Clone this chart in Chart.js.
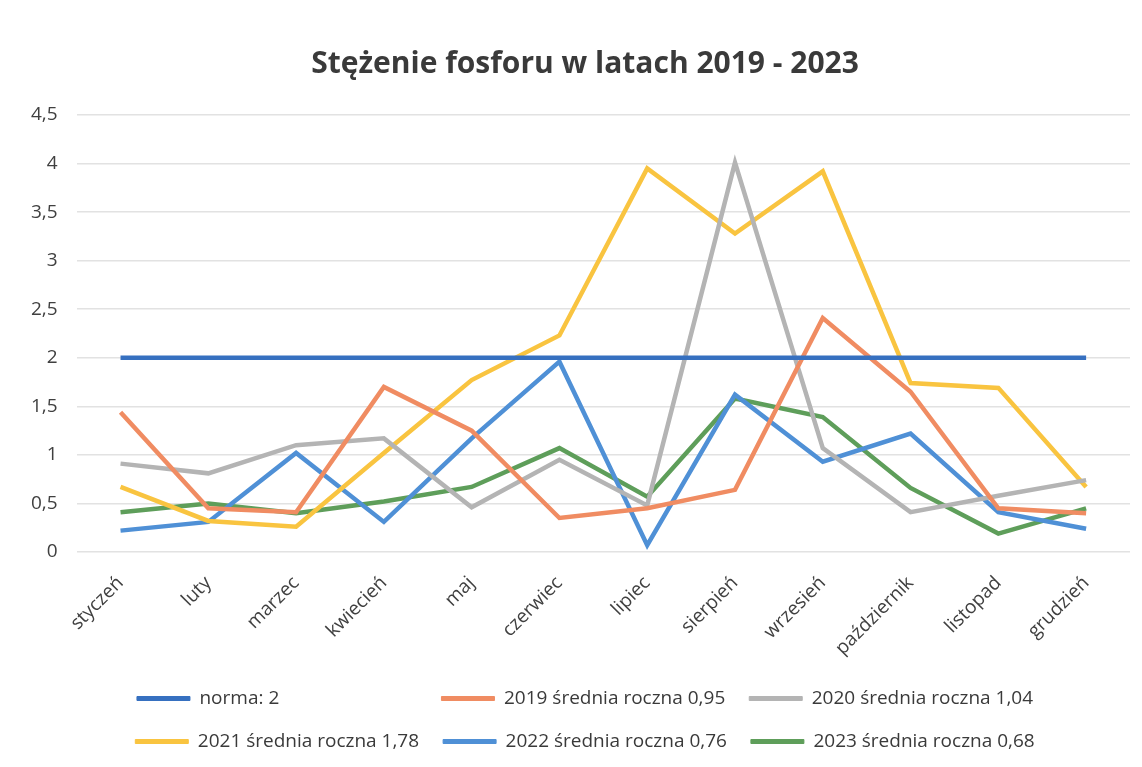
<!DOCTYPE html>
<html>
<head>
<meta charset="utf-8">
<script src="https://cdn.jsdelivr.net/npm/chart.js@4.4.1/dist/chart.umd.min.js"></script>
<style>
    html, body { margin: 0; padding: 0; background: #fff; }
    #wrap { width: 1142px; height: 767px; position: relative; }
</style>
</head>
<body>
<div id="wrap"><canvas id="fosfor"></canvas></div>
<script>
var miesiace = ['styczeń', 'luty', 'marzec', 'kwiecień', 'maj', 'czerwiec', 'lipiec', 'sierpień', 'wrzesień', 'październik', 'listopad', 'grudzień'];
var norma = [2, 2, 2, 2, 2, 2, 2, 2, 2, 2, 2, 2];
var rok2019 = [1.44, 0.45, 0.41, 1.70, 1.25, 0.35, 0.45, 0.64, 2.41, 1.65, 0.45, 0.40];
var rok2020 = [0.91, 0.81, 1.10, 1.17, 0.46, 0.95, 0.48, 4.01, 1.07, 0.41, 0.58, 0.74];
var rok2021 = [0.67, 0.32, 0.26, 1.02, 1.77, 2.23, 3.95, 3.28, 3.92, 1.74, 1.69, 0.67];
var rok2022 = [0.22, 0.31, 1.02, 0.31, 1.17, 1.96, 0.07, 1.62, 0.93, 1.22, 0.41, 0.24];
var rok2023 = [0.41, 0.50, 0.40, 0.52, 0.67, 1.07, 0.57, 1.58, 1.39, 0.66, 0.19, 0.45];
var etykiety = ['norma: 2', '2019 średnia roczna 0,95', '2020 średnia roczna 1,04', '2021 średnia roczna 1,78', '2022 średnia roczna 0,76', '2023 średnia roczna 0,68'];
var kolory = ['#3670c0', '#f08c62', '#b4b4b4', '#f9c440', '#4f90d6', '#5e9e5a'];

var fontLegendy = { family: 'Open Sans', size: 19 };

function seria(i, dane) {
    return {
        label: etykiety[i],
        data: dane,
        borderColor: kolory[i],
        backgroundColor: kolory[i],
        borderWidth: 4.5,
        pointRadius: 0,
        tension: 0,
        fill: false
    };
}

// krotka etykieta "norma" dopelniona spacjami, zeby legenda ukladala sie w kolumny
function etykietyLegendy(chart) {
    var items = Chart.defaults.plugins.legend.labels.generateLabels(chart);
    var c = document.createElement('canvas').getContext('2d');
    c.font = fontLegendy.size + 'px "' + fontLegendy.family + '"';
    var maks = 0;
    for (let i = 0; i < items.length; i++) {
        maks = Math.max(maks, c.measureText(items[i].text).width);
    }
    for (let i = 0; i < items.length; i++) {
        while (c.measureText(items[i].text + ' ').width <= maks) {
            items[i].text = items[i].text + ' ';
        }
        items[i].lineWidth = 1;
    }
    return items;
}

// tytul i legenda w oryginale sa troche przesuniete w prawo
const przesun = {
    id: 'przesun',
    afterLayout: function (chart) {
        var dx = 14;
        chart.titleBlock.left += dx;
        chart.titleBlock.right += dx;
        chart.legend.left += dx;
        chart.legend.right += dx;
    }
};

const ctx = document.getElementById('fosfor');
new Chart(ctx, {
    type: 'line',
    data: {
        labels: miesiace,
        datasets: [
            seria(0, norma),
            seria(1, rok2019),
            seria(2, rok2020),
            seria(3, rok2021),
            seria(4, rok2022),
            seria(5, rok2023)
        ]
    },
    plugins: [przesun],
    options: {
        responsive: true,
        maintainAspectRatio: false,
        animation: false,
        layout: { padding: { left: 12, right: 12, top: 46, bottom: 6 } },
        plugins: {
            title: {
                display: true,
                text: 'Stężenie fosforu w latach 2019 - 2023',
                color: '#3a3a3a',
                font: { family: 'Open Sans', size: 30, weight: 'bold' },
                padding: { top: 0, bottom: 33 }
            },
            legend: {
                position: 'bottom',
                labels: {
                    boxWidth: 53,
                    boxHeight: 4,
                    color: '#3a3a3a',
                    padding: 24,
                    font: fontLegendy,
                    generateLabels: etykietyLegendy
                }
            },
            tooltip: { enabled: false }
        },
        scales: {
            x: {
                offset: true,
                grid: { display: false, drawTicks: false },
                border: { display: false },
                ticks: {
                    color: '#404040',
                    maxRotation: 45,
                    minRotation: 45,
                    padding: 20,
                    font: { family: 'Open Sans', size: 19 }
                },
                afterFit: function (scale) {
                    scale.height = 113;
                }
            },
            y: {
                min: 0,
                max: 4.5,
                grid: { color: '#e2e2e2', lineWidth: 1.5, drawTicks: false },
                border: { display: false },
                ticks: {
                    stepSize: 0.5,
                    padding: 19,
                    color: '#404040',
                    font: { family: 'Open Sans', size: 19 },
                    callback: function (v) { return String(v).replace('.', ','); }
                }
            }
        }
    }
});
</script>
</body>
</html>
